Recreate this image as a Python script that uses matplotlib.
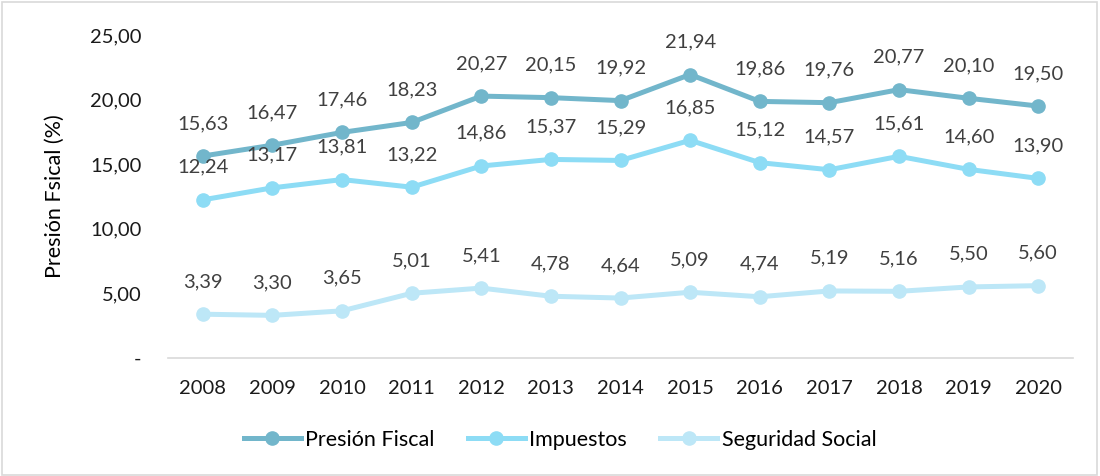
import matplotlib.pyplot as plt
from matplotlib.ticker import FuncFormatter

plt.rcParams['font.family'] = ['Lato', 'DejaVu Sans']

# datos
anios = ['2008', '2009', '2010', '2011', '2012', '2013', '2014',
         '2015', '2016', '2017', '2018', '2019', '2020']
presion = [15.63, 16.47, 17.46, 18.23, 20.27, 20.15, 19.92,
           21.94, 19.86, 19.76, 20.77, 20.10, 19.50]
impuestos = [12.24, 13.17, 13.81, 13.22, 14.86, 15.37, 15.29,
             16.85, 15.12, 14.57, 15.61, 14.60, 13.90]
seguridad = [3.39, 3.30, 3.65, 5.01, 5.41, 4.78, 4.64,
             5.09, 4.74, 5.19, 5.16, 5.50, 5.60]

series = [('Presión Fiscal', presion, '#72B6CB'),
          ('Impuestos', impuestos, '#8DDCF5'),
          ('Seguridad Social', seguridad, '#BDE7F7')]

txt = '#404040'

fig = plt.figure(figsize=(11, 4.76), dpi=100)
ax = fig.add_axes([0.1527, 0.2479, 0.8228, 0.6786])

x = range(len(anios))
for nombre, vals, col in series:
    ax.plot(x, vals, color=col, lw=3.6, marker='o', ms=9.5, label=nombre)
    for xi, v in zip(x, vals):
        ax.annotate(f'{v:.2f}'.replace('.', ','), (xi, v), xytext=(0, 23.5),
                    textcoords='offset points', ha='center', va='center',
                    fontsize=14.5, color=txt)

ax.set_xlim(-0.5, len(anios) - 0.5)
ax.set_ylim(0, 25)
ax.set_yticks([0, 5, 10, 15, 20, 25])
ax.yaxis.set_major_formatter(FuncFormatter(
    lambda v, p: '-' if v == 0 else f'{v:.2f}'.replace('.', ',')))
ax.set_xticks(list(x))
ax.set_xticklabels(anios)
ax.tick_params(axis='both', length=0, labelsize=14.5, labelcolor='#1a1a1a')
ax.tick_params(axis='y', pad=19)
ax.tick_params(axis='x', pad=16)

for s in ['top', 'right', 'left']:
    ax.spines[s].set_visible(False)
ax.spines['bottom'].set_color('#D9D9D9')
ax.spines['bottom'].set_linewidth(1.2)

ax.set_ylabel('Presión Fsical (%)', fontsize=15.5, color='#000000')
ax.yaxis.set_label_coords(-0.114, 0.5)

fig.legend(loc='center', bbox_to_anchor=(0.509, 0.076), ncol=3, frameon=False,
           fontsize=15.5, handlelength=2.65, columnspacing=1.55, handletextpad=0.2,
           labelcolor='#000000')

# borde de la figura
fig.patches.append(plt.Rectangle((0.002, 0.003), 0.995, 0.992, transform=fig.transFigure,
                                 fill=False, edgecolor='#D9D9D9', lw=1.2))

fig.savefig('out.png', dpi=100)
